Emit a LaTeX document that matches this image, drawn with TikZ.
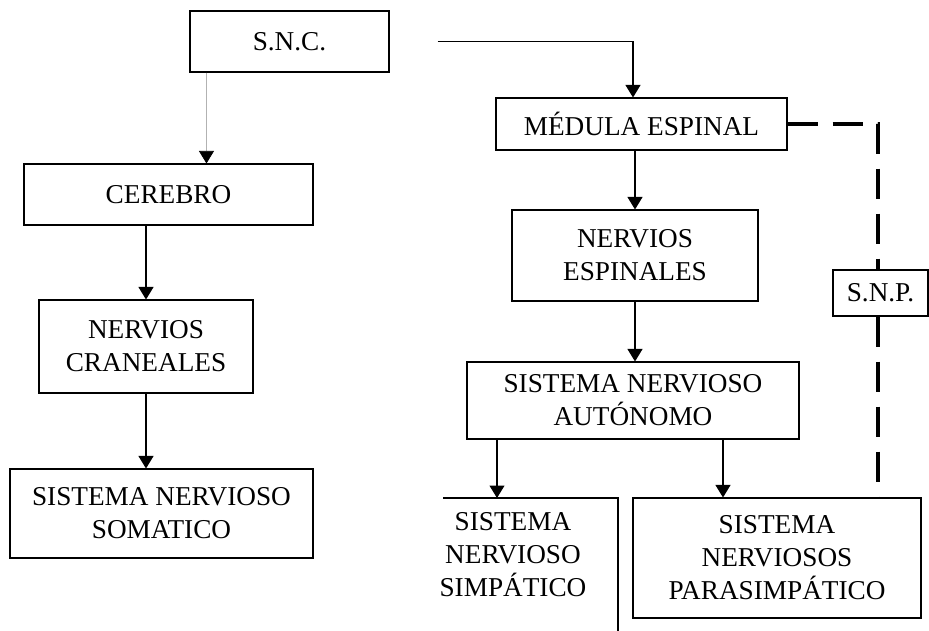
\documentclass[tikz,border=0pt]{standalone}
\usepackage{fontspec}
\setmainfont{Liberation Serif}
\usepackage{tikz}
\usetikzlibrary{arrows.meta}

\begin{document}
\begin{tikzpicture}[
    box/.style={draw, line width=0.6pt, align=center, inner sep=0pt,
        font=\fontsize{15.5}{18.8}\selectfont},
    label/.style={align=center, inner sep=0pt, font=\fontsize{15.5}{18.8}\selectfont},
    arr/.style={line width=0.6pt, -{Triangle[width=0.3cm,length=0.25cm]}},
    faint/.style={draw=black!30, -{Triangle[width=0.3cm,length=0.25cm,black]}},
    snpline/.style={line width=1.8pt, dash pattern=on 0.6cm off 0.3cm}
    ]
    \useasboundingbox (0,0) rectangle (18.58,-12.62);

    % left column
    \node[box, minimum width=3.98cm, minimum height=1.22cm] (snc) at (5.79,-0.83) {S.N.C.};
    \node[box, minimum width=5.78cm, minimum height=1.22cm] (cerebro) at (3.37,-3.89) {CEREBRO};
    \node[box, minimum width=4.28cm, minimum height=1.86cm] (craneales) at (2.92,-6.93) {NERVIOS\\CRANEALES};
    \node[box, minimum width=6.06cm, minimum height=1.78cm] (somatico) at (3.23,-10.27) {SISTEMA NERVIOSO\\SOMATICO};

    % right column
    \node[box, minimum width=5.82cm, minimum height=1.04cm] (medula) at (12.83,-2.48) {MÉDULA ESPINAL};
    \node[box, minimum width=4.92cm, minimum height=1.82cm] (espinales) at (12.70,-5.11) {NERVIOS\\ESPINALES};
    \node[box, minimum width=6.64cm, minimum height=1.54cm] (autonomo) at (12.66,-8.01) {SISTEMA NERVIOSO\\AUTÓNOMO};
    \node[box, minimum width=1.90cm, minimum height=0.92cm] (snp) at (17.61,-5.86) {S.N.P.};
    \node[box, minimum width=5.76cm, minimum height=2.40cm] (para) at (15.54,-11.16) {SISTEMA\\NERVIOSOS\\PARASIMPÁTICO};

    % open box
    \node[label] (simpatico) at (10.26,-11.10) {SISTEMA\\NERVIOSO\\SIMPÁTICO};
    \coordinate (simpA) at (8.86,-9.96);
    \coordinate (simpB) at (12.36,-9.96);
    \coordinate (simpC) at (12.36,-12.62);
    \coordinate (simpT) at (9.94,-9.96);
    \draw[line width=0.6pt] (simpA) -- (simpB) -- (simpC);

    % connectors
    \draw[faint] ([xshift=0.34cm]snc.south west) -- ([xshift=0.34cm]snc.south west |- cerebro.north);
    \draw[arr] ([xshift=0.96cm]snc.east) -| ([xshift=-0.17cm]medula.north);
    \draw[arr] (craneales.north |- cerebro.south) -- (craneales.north);
    \draw[arr] (craneales.south) -- (craneales.south |- somatico.north);
    \draw[arr] (espinales.north |- medula.south) -- (espinales.north);
    \draw[arr] (espinales.south) -- (espinales.south |- autonomo.north);
    \draw[arr] (simpT |- autonomo.south) -- (simpT);
    \draw[arr] ([xshift=-1.08cm]para.north |- autonomo.south) -- ([xshift=-1.08cm]para.north);

    \draw[snpline] (medula.east) -| ([xshift=-0.05cm]snp.north);
    \draw[snpline] ([xshift=-0.05cm]snp.south) -- ([xshift=-0.05cm]snp.south |- para.north);
\end{tikzpicture}
\end{document}
